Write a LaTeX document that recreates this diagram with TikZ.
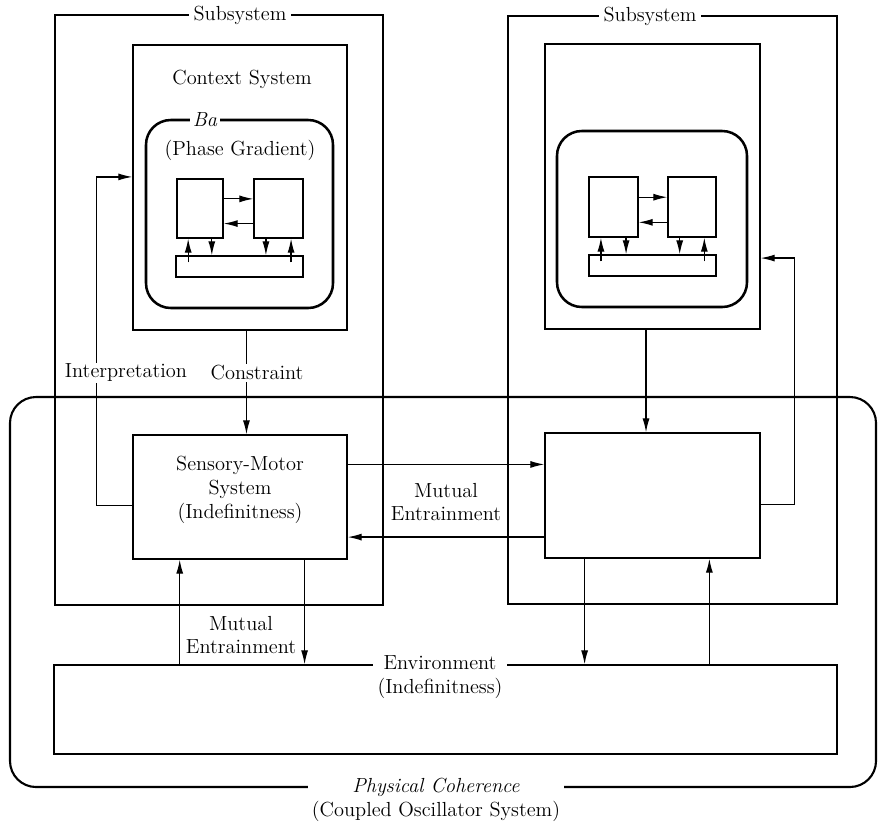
\documentclass[tikz,border=0pt]{standalone}
\usepackage{tikz}
\usetikzlibrary{positioning,calc,fit}
\usetikzlibrary{arrows.meta}
\tikzstyle{arrow} = [line width=0.9pt,-{Latex[length=10pt,width=5pt]}]
\tikzstyle{block} = [draw,line width=0.9pt,inner sep=0pt]
\tikzstyle{ba} = [draw,line width=1.8pt,rounded corners=0.62cm,inner sep=0pt]
\tikzstyle{tag} = [fill=white,inner sep=3pt,align=center]

\begin{document}
\begin{tikzpicture}[x=0.025cm,y=-0.025cm,font=\fontsize{14.5}{17}\selectfont]
\useasboundingbox (0,0) rectangle (878,830);
\node[block,fit={(10,397) (876,787)},rounded corners=0.65cm,line width=1.5pt] (phys) {};
\node[block,fit={(55,15) (383,605)}] (subL) {};
\node[block,fit={(508,16) (837,604)}] (subR) {};
\node[block,fit={(133,45) (347,330)}] (ctxL) {};
\node[block,fit={(545,44) (760,329)}] (ctxR) {};
\node[ba,fit={(146,120) (333,308)}] (baL) {};
\node[ba,fit={(557,131) (747,307)}] (baR) {};
\node[block,fit={(133,435) (347,559)},align=center] (smL) {Sensory-Motor\\System\\(Indefinitness)};
\node[block,fit={(545,433) (760,558)}] (smR) {};
\node[block,fit={(54,665) (837,754)}] (env) {};

\node[tag] at (240,15) {Subsystem};
\node[tag] at (650,16) {Subsystem};
\node at (242,79) {Context System};
\node[tag,inner sep=2pt] at (205,120) {\textit{Ba}};
\node at (240,150) {(Phase Gradient)};
\node[tag] at (440,677) {Environment\\(Indefinitness)};
\node[tag] at (436,800) {\textit{Physical Coherence}\\(Coupled Oscillator System)};

\node[block,fit={(177,179) (223,238)}] (boxA) {};
\node[block,fit={(254,179) (303,238)}] (boxB) {};
\node[block,fit={(176,256) (303,277)}] (barL) {};
\node[block,fit={(589,177) (638,237)}] (boxC) {};
\node[block,fit={(668,177) (716,237)}] (boxD) {};
\node[block,fit={(589,255) (716,276)}] (barR) {};
\foreach \a/\b/\c in {boxA/boxB/barL,boxC/boxD/barR}{
	\coordinate (h1) at ($(\a.north east)!0.34!(\a.south east)$);
	\coordinate (h2) at ($(\a.north east)!0.75!(\a.south east)$);
	\draw[arrow] (h1) -- (h1 -| \b.west);
	\draw[arrow] (h2 -| \b.west) -- (h2);
	\coordinate (v1) at ($(\a.south west)!0.25!(\a.south east)$);
	\coordinate (v2) at ($(\a.south west)!0.75!(\a.south east)$);
	\coordinate (v3) at ($(\b.south west)!0.25!(\b.south east)$);
	\coordinate (v4) at ($(\b.south west)!0.75!(\b.south east)$);
	\draw[arrow] ($(v1 |- \c.north)+(0,7)$) -- (v1);
	\draw[arrow] (v2) -- (v2 |- \c.north);
	\draw[arrow] (v3) -- (v3 |- \c.north);
	\draw[arrow] ($(v4 |- \c.north)+(0,7)$) -- (v4);
}

\coordinate (m1) at ($(smL.north east)!0.24!(smL.south east)$);
\coordinate (m2) at ($(smL.north east)!0.82!(smL.south east)$);
\draw[arrow] (m1) -- (m1 -| smR.west);
\draw[arrow] (m2 -| smR.west) -- (m2);
\node[align=center] at (446,502) {Mutual\\Entrainment};

\coordinate (i1) at ($(smL.north west)!0.565!(smL.south west)$);
\coordinate (i2) at ($(ctxL.north west)!0.463!(ctxL.south west)$);
\draw[arrow] (i1) -- ++(-36,0) |- (i2);
\node[tag,inner sep=1pt] at (126,373) {Interpretation};
\coordinate (j1) at ($(smR.north east)!0.57!(smR.south east)$);
\coordinate (j2) at ($(ctxR.north east)!0.75!(ctxR.south east)$);
\draw[arrow] (j1) -- ++(34,0) |- (j2);

\coordinate (c1) at ($(ctxL.south west)!0.53!(ctxL.south east)$);
\draw[arrow] (c1) -- (c1 |- smL.north);
\node[tag,inner sep=1pt] at (257,373) {Constraint};
\coordinate (c2) at ($(ctxR.south west)!0.47!(ctxR.south east)$);
\draw[arrow] (c2) -- (c2 |- smR.north);

\coordinate (e1) at ($(smL.south west)!0.22!(smL.south east)$);
\coordinate (e2) at ($(smL.south west)!0.8!(smL.south east)$);
\coordinate (e3) at ($(smR.south west)!0.186!(smR.south east)$);
\coordinate (e4) at ($(smR.south west)!0.763!(smR.south east)$);
\draw[arrow] (e1 |- env.north) -- (e1);
\draw[arrow] (e2) -- (e2 |- env.north);
\draw[arrow] (e3) -- (e3 |- env.north);
\draw[arrow] (e4 |- env.north) -- (e4);
\node[align=center] at (241,635) {Mutual\\Entrainment};
\end{tikzpicture}
\end{document}
